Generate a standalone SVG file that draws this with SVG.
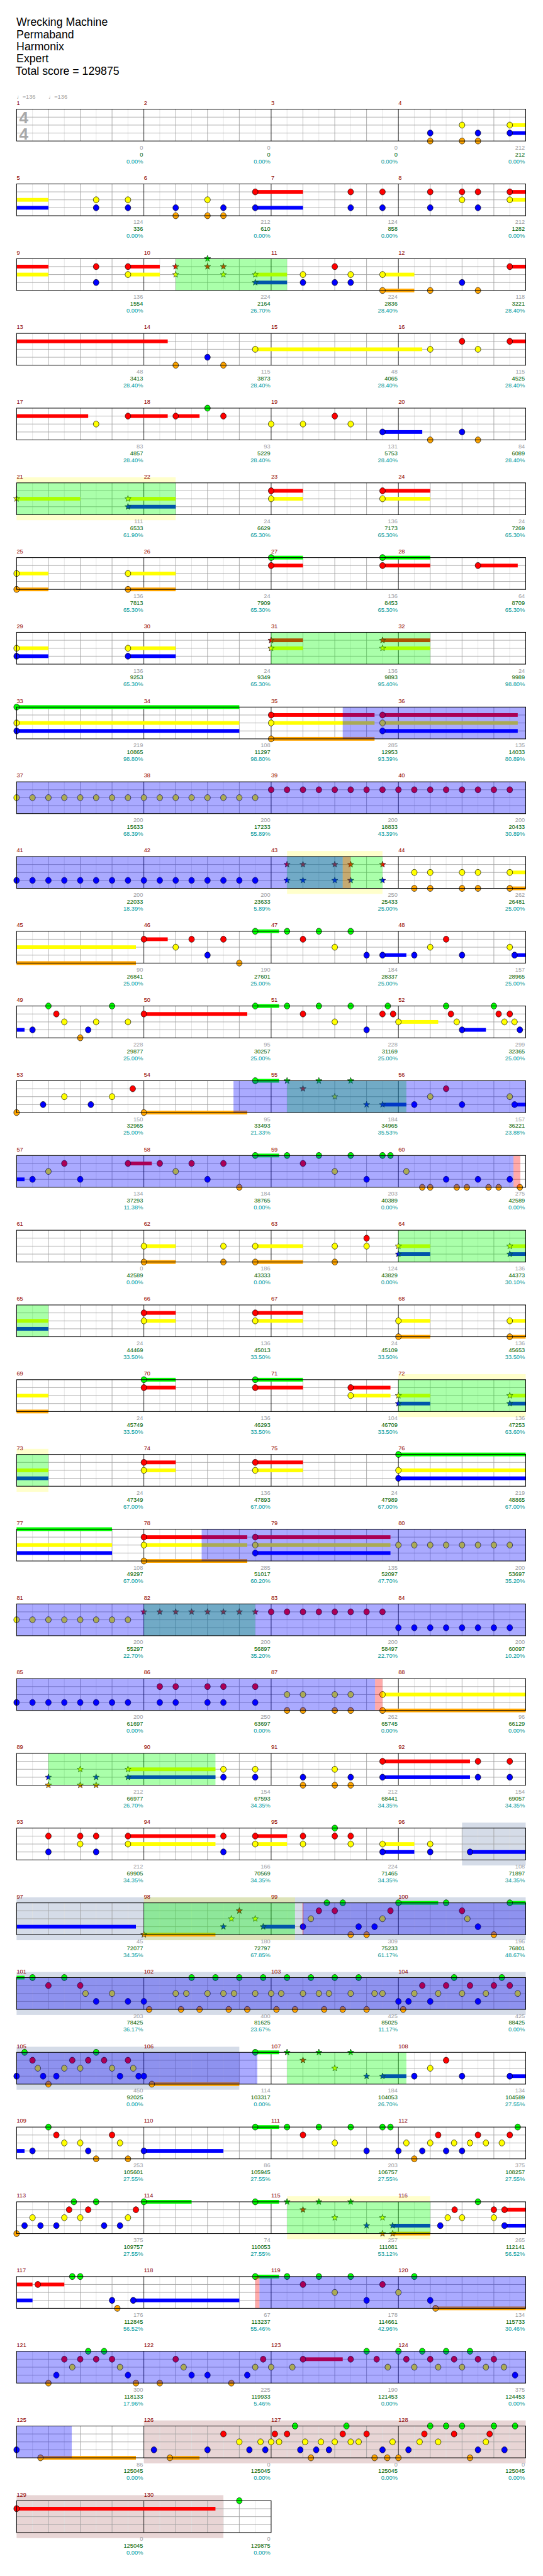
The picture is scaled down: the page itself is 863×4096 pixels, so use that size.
<svg xmlns="http://www.w3.org/2000/svg" width="863" height="4096" viewBox="0 0 863 4096">
<style>
.t{font-family:'Liberation Sans',Arial,sans-serif}
.ti{font-size:21px;fill:#000}
.mn{font-size:11px;fill:#8b0000}
.a,.b,.c{font-size:11px;text-anchor:end}
.a{fill:#a0a0a0}.b{fill:#006400}.c{fill:#009999}
.sw{fill:#fff}
.bd{fill:none;stroke:#000;stroke-width:1.2}
.cg{fill:#00ff00}.cr{fill:#ff0000}.cy{fill:#ffff00}.cb{fill:#0000ff}.co{fill:#ffa500}
.og{fill:#00ff00;opacity:.333}.ob{fill:#0000ff;opacity:.333}.or{fill:#ff0000;opacity:.333}
.gy{fill:#d5dce8}.pk{fill:#e8d5d5}.yb{fill:#ffff00;opacity:.2}
.tp{font-family:'Liberation Sans','DejaVu Sans',sans-serif;font-size:11px;fill:#a0a0a0}
.ts{font-family:'Liberation Sans',Arial,sans-serif;font-size:31px;font-weight:bold;fill:#a8a8a8}
</style>
<defs>
<g id="gm">
<path d="M30 0V60M90 0V60M150 0V60M210 0V60" stroke="#e0e0e0" stroke-width="1"/>
<path d="M60 0V60M120 0V60M180 0V60M0 15H240M0 30H240M0 45H240" stroke="#a0a0a0" stroke-width="1"/>
</g>
<g id="gr"><use href="#gm"/><use href="#gm" x="240"/><use href="#gm" x="480"/><use href="#gm" x="720"/><path d="M240 0V60M480 0V60M720 0V60" stroke="#000" stroke-width="1"/></g>
<ellipse id="nb" rx="5.3" ry="5.8" stroke="#000" stroke-width=".8"/>
<use id="G" href="#nb" fill="#00ff00"/>
<use id="R" href="#nb" y="15" fill="#ff0000"/>
<use id="Y" href="#nb" y="30" fill="#ffff00"/>
<use id="B" href="#nb" y="45" fill="#0000ff"/>
<use id="O" href="#nb" y="60" fill="#ffa500"/>
<polygon id="stb" points="0,-6.2 1.5,-2.1 5.9,-1.9 2.4,0.8 3.6,5 0,2.6 -3.6,5 -2.4,0.8 -5.9,-1.9 -1.5,-2.1" stroke="#000" stroke-width=".7"/>
<use id="sG" href="#stb" fill="#00ff00"/>
<use id="sR" href="#stb" y="15" fill="#ff0000"/>
<use id="sY" href="#stb" y="30" fill="#ffff00"/>
<use id="sB" href="#stb" y="45" fill="#0000ff"/>
<use id="sO" href="#stb" y="60" fill="#ffa500"/>
</defs>
<rect width="863" height="4096" fill="#fff"/>
<g transform="scale(0.8428)">
<g id="header" class="t">
<text class="ti" x="31" y="49">Wrecking Machine</text>
<text class="ti" x="31" y="72">Permaband</text>
<text class="ti" x="31" y="95">Harmonix</text>
<text class="ti" x="31" y="118">Expert</text>
<text class="ti" x="29.5" y="141">Total score = 129875</text>
</g>

<g id="row1" transform="translate(31.3,206)">
<rect class="sw" width="960" height="60"/>
<use href="#gr"/>
<rect class="cy" x="930" y="26.5" width="30" height="7"/><rect class="cb" x="930" y="41.5" width="30" height="7"/>
<use href="#B" x="780"/><use href="#O" x="780"/><use href="#Y" x="840"/><use href="#O" x="840"/><use href="#B" x="870"/><use href="#O" x="870"/><use href="#Y" x="930"/><use href="#B" x="930"/>
<rect class="bd" width="960" height="60"/>
<text class="ts" x="5" y="27">4</text><text class="ts" x="5" y="57">4</text>
<text class="tp" x="0" y="-20">♩=136</text><text class="tp" x="60" y="-20">♩=136</text>
<g class="t">
<text class="mn" x="0" y="-8">1</text><text class="mn" x="240" y="-8">2</text><text class="mn" x="480" y="-8">3</text><text class="mn" x="720" y="-8">4</text>
<text class="a" x="238.5" y="76">0</text><text class="b" x="238.5" y="89">0</text><text class="c" x="238.5" y="102">0.00%</text>
<text class="a" x="478.5" y="76">0</text><text class="b" x="478.5" y="89">0</text><text class="c" x="478.5" y="102">0.00%</text>
<text class="a" x="718.5" y="76">0</text><text class="b" x="718.5" y="89">0</text><text class="c" x="718.5" y="102">0.00%</text>
<text class="a" x="958.5" y="76">212</text><text class="b" x="958.5" y="89">212</text><text class="c" x="958.5" y="102">0.00%</text>
</g>
</g>

<g id="row2" transform="translate(31.3,347)">
<rect class="sw" width="960" height="60"/>
<use href="#gr"/>
<rect class="cy" x="0" y="26.5" width="60" height="7"/><rect class="cb" x="0" y="41.5" width="60" height="7"/><rect class="cr" x="450" y="11.5" width="90" height="7"/><rect class="cb" x="450" y="41.5" width="90" height="7"/><rect class="cr" x="930" y="11.5" width="30" height="7"/><rect class="cy" x="930" y="26.5" width="30" height="7"/>
<use href="#Y" x="150"/><use href="#B" x="150"/><use href="#Y" x="210"/><use href="#B" x="210"/><use href="#B" x="300"/><use href="#O" x="300"/><use href="#Y" x="360"/><use href="#O" x="360"/><use href="#B" x="390"/><use href="#O" x="390"/><use href="#R" x="450"/><use href="#B" x="450"/><use href="#R" x="630"/><use href="#B" x="630"/><use href="#R" x="690"/><use href="#B" x="690"/><use href="#R" x="780"/><use href="#B" x="780"/><use href="#R" x="840"/><use href="#Y" x="840"/><use href="#R" x="870"/><use href="#B" x="870"/><use href="#R" x="930"/><use href="#Y" x="930"/>
<rect class="bd" width="960" height="60"/>
<g class="t">
<text class="mn" x="0" y="-8">5</text><text class="mn" x="240" y="-8">6</text><text class="mn" x="480" y="-8">7</text><text class="mn" x="720" y="-8">8</text>
<text class="a" x="238.5" y="76">124</text><text class="b" x="238.5" y="89">336</text><text class="c" x="238.5" y="102">0.00%</text>
<text class="a" x="478.5" y="76">212</text><text class="b" x="478.5" y="89">610</text><text class="c" x="478.5" y="102">0.00%</text>
<text class="a" x="718.5" y="76">124</text><text class="b" x="718.5" y="89">858</text><text class="c" x="718.5" y="102">0.00%</text>
<text class="a" x="958.5" y="76">212</text><text class="b" x="958.5" y="89">1282</text><text class="c" x="958.5" y="102">0.00%</text>
</g>
</g>

<g id="row3" transform="translate(31.3,488)">
<rect class="sw" width="960" height="60"/>
<use href="#gr"/>
<rect class="cr" x="0" y="11.5" width="60" height="7"/><rect class="cy" x="0" y="26.5" width="60" height="7"/><rect class="cr" x="210" y="11.5" width="60" height="7"/><rect class="cy" x="210" y="26.5" width="60" height="7"/><rect class="cy" x="450" y="26.5" width="60" height="7"/><rect class="cb" x="450" y="41.5" width="60" height="7"/><rect class="cy" x="690" y="26.5" width="60" height="7"/><rect class="co" x="690" y="56.5" width="60" height="7"/><rect class="cr" x="930" y="11.5" width="30" height="7"/>
<use href="#R" x="150"/><use href="#B" x="150"/><use href="#R" x="210"/><use href="#Y" x="210"/>
<use href="#sR" x="300"/><use href="#sY" x="300"/><use href="#sG" x="360"/><use href="#sR" x="360"/><use href="#sR" x="390"/><use href="#sY" x="390"/><use href="#sY" x="450"/><use href="#sB" x="450"/>
<use href="#Y" x="540"/><use href="#B" x="540"/><use href="#R" x="600"/><use href="#B" x="600"/><use href="#Y" x="630"/><use href="#B" x="630"/><use href="#Y" x="690"/><use href="#O" x="690"/><use href="#O" x="780"/><use href="#B" x="840"/><use href="#O" x="870"/><use href="#R" x="930"/>
<rect class="og" x="300" width="210" height="60"/>
<rect class="bd" width="960" height="60"/>
<g class="t">
<text class="mn" x="0" y="-8">9</text><text class="mn" x="240" y="-8">10</text><text class="mn" x="480" y="-8">11</text><text class="mn" x="720" y="-8">12</text>
<text class="a" x="238.5" y="76">136</text><text class="b" x="238.5" y="89">1554</text><text class="c" x="238.5" y="102">0.00%</text>
<text class="a" x="478.5" y="76">224</text><text class="b" x="478.5" y="89">2164</text><text class="c" x="478.5" y="102">26.70%</text>
<text class="a" x="718.5" y="76">224</text><text class="b" x="718.5" y="89">2836</text><text class="c" x="718.5" y="102">28.40%</text>
<text class="a" x="958.5" y="76">118</text><text class="b" x="958.5" y="89">3221</text><text class="c" x="958.5" y="102">28.40%</text>
</g>
</g>

<g id="row4" transform="translate(31.3,629)">
<rect class="sw" width="960" height="60"/>
<use href="#gr"/>
<rect class="cr" x="0" y="11.5" width="285" height="7"/><rect class="cy" x="450" y="26.5" width="315" height="7"/><rect class="cr" x="930" y="11.5" width="30" height="7"/>
<use href="#O" x="300"/><use href="#B" x="360"/><use href="#O" x="390"/><use href="#Y" x="450"/><use href="#Y" x="780"/><use href="#R" x="840"/><use href="#Y" x="870"/><use href="#R" x="930"/>
<rect class="bd" width="960" height="60"/>
<g class="t">
<text class="mn" x="0" y="-8">13</text><text class="mn" x="240" y="-8">14</text><text class="mn" x="480" y="-8">15</text><text class="mn" x="720" y="-8">16</text>
<text class="a" x="238.5" y="76">48</text><text class="b" x="238.5" y="89">3413</text><text class="c" x="238.5" y="102">28.40%</text>
<text class="a" x="478.5" y="76">115</text><text class="b" x="478.5" y="89">3873</text><text class="c" x="478.5" y="102">28.40%</text>
<text class="a" x="718.5" y="76">48</text><text class="b" x="718.5" y="89">4065</text><text class="c" x="718.5" y="102">28.40%</text>
<text class="a" x="958.5" y="76">115</text><text class="b" x="958.5" y="89">4525</text><text class="c" x="958.5" y="102">28.40%</text>
</g>
</g>

<g id="row5" transform="translate(31.3,770)">
<rect class="sw" width="960" height="60"/>
<use href="#gr"/>
<rect class="cr" x="0" y="11.5" width="135" height="7"/><rect class="cr" x="210" y="11.5" width="75" height="7"/><rect class="cr" x="300" y="11.5" width="45" height="7"/><rect class="cb" x="690" y="41.5" width="75" height="7"/>
<use href="#Y" x="150"/><use href="#R" x="210"/><use href="#R" x="300"/><use href="#G" x="360"/><use href="#R" x="390"/><use href="#Y" x="480"/><use href="#Y" x="540"/><use href="#R" x="600"/><use href="#Y" x="630"/><use href="#B" x="690"/><use href="#O" x="780"/><use href="#B" x="840"/><use href="#O" x="870"/>
<rect class="bd" width="960" height="60"/>
<g class="t">
<text class="mn" x="0" y="-8">17</text><text class="mn" x="240" y="-8">18</text><text class="mn" x="480" y="-8">19</text><text class="mn" x="720" y="-8">20</text>
<text class="a" x="238.5" y="76">83</text><text class="b" x="238.5" y="89">4857</text><text class="c" x="238.5" y="102">28.40%</text>
<text class="a" x="478.5" y="76">93</text><text class="b" x="478.5" y="89">5229</text><text class="c" x="478.5" y="102">28.40%</text>
<text class="a" x="718.5" y="76">131</text><text class="b" x="718.5" y="89">5753</text><text class="c" x="718.5" y="102">28.40%</text>
<text class="a" x="958.5" y="76">84</text><text class="b" x="958.5" y="89">6089</text><text class="c" x="958.5" y="102">28.40%</text>
</g>
</g>

<g id="row6" transform="translate(31.3,911)">
<rect class="sw" width="960" height="60"/>
<rect class="yb" x="0" y="-10.5" width="300" height="10.5"/><rect class="yb" x="0" y="60" width="300" height="10.5"/>
<use href="#gr"/>
<rect class="cy" x="0" y="26.5" width="120" height="7"/><rect class="cy" x="210" y="26.5" width="90" height="7"/><rect class="cb" x="210" y="41.5" width="90" height="7"/><rect class="cr" x="480" y="11.5" width="60" height="7"/><rect class="cy" x="480" y="26.5" width="60" height="7"/><rect class="cr" x="690" y="11.5" width="90" height="7"/><rect class="cy" x="690" y="26.5" width="90" height="7"/>
<use href="#sY" x="0"/><use href="#sY" x="210"/><use href="#sB" x="210"/><use href="#R" x="480"/><use href="#Y" x="480"/><use href="#R" x="690"/><use href="#Y" x="690"/>
<rect class="og" x="0" width="300" height="60"/>
<rect class="bd" width="960" height="60"/>
<g class="t">
<text class="mn" x="0" y="-8">21</text><text class="mn" x="240" y="-8">22</text><text class="mn" x="480" y="-8">23</text><text class="mn" x="720" y="-8">24</text>
<text class="a" x="238.5" y="76">111</text><text class="b" x="238.5" y="89">6533</text><text class="c" x="238.5" y="102">61.90%</text>
<text class="a" x="478.5" y="76">24</text><text class="b" x="478.5" y="89">6629</text><text class="c" x="478.5" y="102">65.30%</text>
<text class="a" x="718.5" y="76">136</text><text class="b" x="718.5" y="89">7173</text><text class="c" x="718.5" y="102">65.30%</text>
<text class="a" x="958.5" y="76">24</text><text class="b" x="958.5" y="89">7269</text><text class="c" x="958.5" y="102">65.30%</text>
</g>
</g>

<g id="row7" transform="translate(31.3,1052)">
<rect class="sw" width="960" height="60"/>
<use href="#gr"/>
<rect class="cy" x="0" y="26.5" width="60" height="7"/><rect class="co" x="0" y="56.5" width="60" height="7"/><rect class="cy" x="210" y="26.5" width="90" height="7"/><rect class="co" x="210" y="56.5" width="90" height="7"/><rect class="cg" x="480" y="-3.5" width="60" height="7"/><rect class="cr" x="480" y="11.5" width="60" height="7"/><rect class="cg" x="690" y="-3.5" width="90" height="7"/><rect class="cr" x="690" y="11.5" width="90" height="7"/><rect class="cr" x="870" y="11.5" width="75" height="7"/>
<use href="#Y" x="0"/><use href="#O" x="0"/><use href="#Y" x="210"/><use href="#O" x="210"/><use href="#G" x="480"/><use href="#R" x="480"/><use href="#G" x="690"/><use href="#R" x="690"/><use href="#R" x="870"/>
<rect class="bd" width="960" height="60"/>
<g class="t">
<text class="mn" x="0" y="-8">25</text><text class="mn" x="240" y="-8">26</text><text class="mn" x="480" y="-8">27</text><text class="mn" x="720" y="-8">28</text>
<text class="a" x="238.5" y="76">136</text><text class="b" x="238.5" y="89">7813</text><text class="c" x="238.5" y="102">65.30%</text>
<text class="a" x="478.5" y="76">24</text><text class="b" x="478.5" y="89">7909</text><text class="c" x="478.5" y="102">65.30%</text>
<text class="a" x="718.5" y="76">136</text><text class="b" x="718.5" y="89">8453</text><text class="c" x="718.5" y="102">65.30%</text>
<text class="a" x="958.5" y="76">64</text><text class="b" x="958.5" y="89">8709</text><text class="c" x="958.5" y="102">65.30%</text>
</g>
</g>

<g id="row8" transform="translate(31.3,1193)">
<rect class="sw" width="960" height="60"/>
<use href="#gr"/>
<rect class="cy" x="0" y="26.5" width="60" height="7"/><rect class="cb" x="0" y="41.5" width="60" height="7"/><rect class="cy" x="210" y="26.5" width="90" height="7"/><rect class="cb" x="210" y="41.5" width="90" height="7"/><rect class="cr" x="480" y="11.5" width="60" height="7"/><rect class="cy" x="480" y="26.5" width="60" height="7"/><rect class="cr" x="690" y="11.5" width="90" height="7"/><rect class="cy" x="690" y="26.5" width="90" height="7"/>
<use href="#Y" x="0"/><use href="#B" x="0"/><use href="#Y" x="210"/><use href="#B" x="210"/><use href="#sR" x="480"/><use href="#sY" x="480"/><use href="#sR" x="690"/><use href="#sY" x="690"/>
<rect class="og" x="480" width="300" height="60"/>
<rect class="bd" width="960" height="60"/>
<g class="t">
<text class="mn" x="0" y="-8">29</text><text class="mn" x="240" y="-8">30</text><text class="mn" x="480" y="-8">31</text><text class="mn" x="720" y="-8">32</text>
<text class="a" x="238.5" y="76">136</text><text class="b" x="238.5" y="89">9253</text><text class="c" x="238.5" y="102">65.30%</text>
<text class="a" x="478.5" y="76">24</text><text class="b" x="478.5" y="89">9349</text><text class="c" x="478.5" y="102">65.30%</text>
<text class="a" x="718.5" y="76">136</text><text class="b" x="718.5" y="89">9893</text><text class="c" x="718.5" y="102">95.40%</text>
<text class="a" x="958.5" y="76">24</text><text class="b" x="958.5" y="89">9989</text><text class="c" x="958.5" y="102">98.80%</text>
</g>
</g>

<g id="row9" transform="translate(31.3,1334)">
<rect class="sw" width="960" height="60"/>
<use href="#gr"/>
<rect class="cg" x="0" y="-3.5" width="420" height="7"/><rect class="cy" x="0" y="26.5" width="420" height="7"/><rect class="cb" x="0" y="41.5" width="420" height="7"/><rect class="cr" x="480" y="11.5" width="195" height="7"/><rect class="cy" x="480" y="26.5" width="195" height="7"/><rect class="co" x="480" y="56.5" width="195" height="7"/><rect class="cr" x="690" y="11.5" width="255" height="7"/><rect class="cy" x="690" y="26.5" width="255" height="7"/><rect class="cb" x="690" y="41.5" width="255" height="7"/>
<use href="#G" x="0"/><use href="#Y" x="0"/><use href="#B" x="0"/><use href="#R" x="480"/><use href="#Y" x="480"/><use href="#O" x="480"/><use href="#R" x="690"/><use href="#Y" x="690"/><use href="#B" x="690"/>
<rect class="ob" x="615" width="345" height="60"/>
<rect class="bd" width="960" height="60"/>
<g class="t">
<text class="mn" x="0" y="-8">33</text><text class="mn" x="240" y="-8">34</text><text class="mn" x="480" y="-8">35</text><text class="mn" x="720" y="-8">36</text>
<text class="a" x="238.5" y="76">219</text><text class="b" x="238.5" y="89">10865</text><text class="c" x="238.5" y="102">98.80%</text>
<text class="a" x="478.5" y="76">108</text><text class="b" x="478.5" y="89">11297</text><text class="c" x="478.5" y="102">98.80%</text>
<text class="a" x="718.5" y="76">285</text><text class="b" x="718.5" y="89">12953</text><text class="c" x="718.5" y="102">93.39%</text>
<text class="a" x="958.5" y="76">135</text><text class="b" x="958.5" y="89">14033</text><text class="c" x="958.5" y="102">80.89%</text>
</g>
</g>

<g id="row10" transform="translate(31.3,1475)">
<rect class="sw" width="960" height="60"/>
<use href="#gr"/>
<use href="#Y" x="0"/><use href="#Y" x="30"/><use href="#Y" x="60"/><use href="#Y" x="90"/><use href="#Y" x="120"/><use href="#Y" x="150"/><use href="#Y" x="180"/><use href="#Y" x="210"/><use href="#Y" x="240"/><use href="#Y" x="270"/><use href="#Y" x="300"/><use href="#Y" x="330"/><use href="#Y" x="360"/><use href="#Y" x="390"/><use href="#Y" x="420"/><use href="#Y" x="450"/>
<use href="#R" x="480"/><use href="#R" x="510"/><use href="#R" x="540"/><use href="#R" x="570"/><use href="#R" x="600"/><use href="#R" x="630"/><use href="#R" x="660"/><use href="#R" x="690"/><use href="#R" x="720"/><use href="#R" x="750"/><use href="#R" x="780"/><use href="#R" x="810"/><use href="#R" x="840"/><use href="#R" x="870"/><use href="#R" x="900"/><use href="#R" x="930"/>
<rect class="ob" x="0" width="960" height="60"/>
<rect class="bd" width="960" height="60"/>
<g class="t">
<text class="mn" x="0" y="-8">37</text><text class="mn" x="240" y="-8">38</text><text class="mn" x="480" y="-8">39</text><text class="mn" x="720" y="-8">40</text>
<text class="a" x="238.5" y="76">200</text><text class="b" x="238.5" y="89">15633</text><text class="c" x="238.5" y="102">68.39%</text>
<text class="a" x="478.5" y="76">200</text><text class="b" x="478.5" y="89">17233</text><text class="c" x="478.5" y="102">55.89%</text>
<text class="a" x="718.5" y="76">200</text><text class="b" x="718.5" y="89">18833</text><text class="c" x="718.5" y="102">43.39%</text>
<text class="a" x="958.5" y="76">200</text><text class="b" x="958.5" y="89">20433</text><text class="c" x="958.5" y="102">30.89%</text>
</g>
</g>

<g id="row11" transform="translate(31.3,1616)">
<rect class="sw" width="960" height="60"/>
<rect class="yb" x="510" y="-10.5" width="180" height="10.5"/><rect class="yb" x="510" y="60" width="180" height="10.5"/>
<use href="#gr"/>
<rect class="cy" x="930" y="26.5" width="30" height="7"/><rect class="co" x="930" y="56.5" width="30" height="7"/>
<use href="#B" x="0"/><use href="#B" x="30"/><use href="#B" x="60"/><use href="#B" x="90"/><use href="#B" x="120"/><use href="#B" x="150"/><use href="#B" x="180"/><use href="#B" x="210"/><use href="#B" x="240"/><use href="#B" x="270"/><use href="#B" x="300"/><use href="#B" x="330"/><use href="#B" x="360"/><use href="#B" x="390"/><use href="#B" x="420"/><use href="#B" x="450"/>
<use href="#sR" x="510"/><use href="#sB" x="510"/><use href="#sR" x="540"/><use href="#sB" x="540"/><use href="#sR" x="600"/><use href="#sB" x="600"/><use href="#sR" x="630"/><use href="#sB" x="630"/><use href="#sR" x="690"/><use href="#sB" x="690"/>
<use href="#Y" x="750"/><use href="#O" x="750"/><use href="#Y" x="780"/><use href="#O" x="780"/><use href="#Y" x="840"/><use href="#O" x="840"/><use href="#Y" x="870"/><use href="#O" x="870"/><use href="#Y" x="930"/><use href="#O" x="930"/>
<rect class="og" x="510" width="180" height="60"/>
<rect class="ob" x="0" width="615" height="60"/>
<rect class="or" x="615" width="15" height="60"/>
<rect class="bd" width="960" height="60"/>
<g class="t">
<text class="mn" x="0" y="-8">41</text><text class="mn" x="240" y="-8">42</text><text class="mn" x="480" y="-8">43</text><text class="mn" x="720" y="-8">44</text>
<text class="a" x="238.5" y="76">200</text><text class="b" x="238.5" y="89">22033</text><text class="c" x="238.5" y="102">18.39%</text>
<text class="a" x="478.5" y="76">200</text><text class="b" x="478.5" y="89">23633</text><text class="c" x="478.5" y="102">5.89%</text>
<text class="a" x="718.5" y="76">250</text><text class="b" x="718.5" y="89">25433</text><text class="c" x="718.5" y="102">25.00%</text>
<text class="a" x="958.5" y="76">262</text><text class="b" x="958.5" y="89">26481</text><text class="c" x="958.5" y="102">25.00%</text>
</g>
</g>

<g id="row12" transform="translate(31.3,1757)">
<rect class="sw" width="960" height="60"/>
<use href="#gr"/>
<rect class="cy" x="0" y="26.5" width="225" height="7"/><rect class="co" x="0" y="56.5" width="225" height="7"/><rect class="cr" x="240" y="11.5" width="45" height="7"/><rect class="cg" x="450" y="-3.5" width="45" height="7"/><rect class="cb" x="690" y="41.5" width="45" height="7"/><rect class="cb" x="939" y="41.5" width="21" height="7"/>
<use href="#R" x="240"/><use href="#Y" x="300"/><use href="#R" x="330"/><use href="#B" x="360"/><use href="#R" x="390"/><use href="#O" x="420"/><use href="#G" x="450"/><use href="#G" x="510"/><use href="#R" x="540"/><use href="#G" x="570"/><use href="#Y" x="600"/><use href="#G" x="630"/><use href="#B" x="660"/><use href="#B" x="690"/><use href="#B" x="750"/><use href="#Y" x="780"/><use href="#R" x="810"/><use href="#B" x="840"/><use href="#Y" x="930"/><use href="#B" x="939"/>
<rect class="bd" width="960" height="60"/>
<g class="t">
<text class="mn" x="0" y="-8">45</text><text class="mn" x="240" y="-8">46</text><text class="mn" x="480" y="-8">47</text><text class="mn" x="720" y="-8">48</text>
<text class="a" x="238.5" y="76">90</text><text class="b" x="238.5" y="89">26841</text><text class="c" x="238.5" y="102">25.00%</text>
<text class="a" x="478.5" y="76">190</text><text class="b" x="478.5" y="89">27601</text><text class="c" x="478.5" y="102">25.00%</text>
<text class="a" x="718.5" y="76">184</text><text class="b" x="718.5" y="89">28337</text><text class="c" x="718.5" y="102">25.00%</text>
<text class="a" x="958.5" y="76">157</text><text class="b" x="958.5" y="89">28965</text><text class="c" x="958.5" y="102">25.00%</text>
</g>
</g>

<g id="row13" transform="translate(31.3,1898)">
<rect class="sw" width="960" height="60"/>
<use href="#gr"/>
<rect class="cb" x="0" y="41.5" width="15" height="7"/><rect class="cr" x="240" y="11.5" width="195" height="7"/><rect class="cg" x="450" y="-3.5" width="45" height="7"/><rect class="cy" x="720" y="26.5" width="75" height="7"/><rect class="cb" x="840" y="41.5" width="45" height="7"/>
<use href="#B" x="30"/><use href="#G" x="60"/><use href="#R" x="75"/><use href="#Y" x="90"/><use href="#O" x="120"/><use href="#B" x="135"/><use href="#Y" x="150"/><use href="#G" x="180"/><use href="#Y" x="210"/><use href="#R" x="240"/><use href="#G" x="450"/><use href="#G" x="510"/><use href="#R" x="540"/><use href="#G" x="570"/><use href="#Y" x="600"/><use href="#G" x="630"/><use href="#B" x="660"/><use href="#R" x="690"/><use href="#G" x="700"/><use href="#R" x="710"/><use href="#Y" x="720"/><use href="#G" x="810"/><use href="#R" x="819"/><use href="#Y" x="830"/><use href="#B" x="840"/><use href="#G" x="900"/><use href="#R" x="909"/><use href="#Y" x="920"/><use href="#R" x="930"/><use href="#Y" x="939"/><use href="#B" x="949"/>
<rect class="bd" width="960" height="60"/>
<g class="t">
<text class="mn" x="0" y="-8">49</text><text class="mn" x="240" y="-8">50</text><text class="mn" x="480" y="-8">51</text><text class="mn" x="720" y="-8">52</text>
<text class="a" x="238.5" y="76">228</text><text class="b" x="238.5" y="89">29877</text><text class="c" x="238.5" y="102">25.00%</text>
<text class="a" x="478.5" y="76">95</text><text class="b" x="478.5" y="89">30257</text><text class="c" x="478.5" y="102">25.00%</text>
<text class="a" x="718.5" y="76">228</text><text class="b" x="718.5" y="89">31169</text><text class="c" x="718.5" y="102">25.00%</text>
<text class="a" x="958.5" y="76">299</text><text class="b" x="958.5" y="89">32365</text><text class="c" x="958.5" y="102">25.00%</text>
</g>
</g>

<g id="row14" transform="translate(31.3,2039)">
<rect class="sw" width="960" height="60"/>
<use href="#gr"/>
<rect class="co" x="240" y="56.5" width="195" height="7"/><rect class="cg" x="450" y="-3.5" width="45" height="7"/><rect class="cb" x="690" y="41.5" width="45" height="7"/><rect class="cb" x="939" y="41.5" width="21" height="7"/>
<use href="#O" x="0"/><use href="#B" x="50"/><use href="#Y" x="90"/><use href="#B" x="140"/><use href="#Y" x="180"/><use href="#R" x="219"/><use href="#O" x="240"/><use href="#G" x="450"/>
<use href="#sG" x="510"/><use href="#sR" x="540"/><use href="#sG" x="570"/><use href="#sY" x="600"/><use href="#sG" x="630"/><use href="#sB" x="660"/><use href="#sB" x="690"/>
<use href="#B" x="750"/><use href="#Y" x="780"/><use href="#R" x="810"/><use href="#B" x="840"/><use href="#Y" x="930"/><use href="#B" x="939"/>
<rect class="og" x="510" width="225" height="60"/>
<rect class="ob" x="409" width="551" height="60"/>
<rect class="bd" width="960" height="60"/>
<g class="t">
<text class="mn" x="0" y="-8">53</text><text class="mn" x="240" y="-8">54</text><text class="mn" x="480" y="-8">55</text><text class="mn" x="720" y="-8">56</text>
<text class="a" x="238.5" y="76">150</text><text class="b" x="238.5" y="89">32965</text><text class="c" x="238.5" y="102">25.00%</text>
<text class="a" x="478.5" y="76">95</text><text class="b" x="478.5" y="89">33493</text><text class="c" x="478.5" y="102">21.33%</text>
<text class="a" x="718.5" y="76">184</text><text class="b" x="718.5" y="89">34965</text><text class="c" x="718.5" y="102">35.53%</text>
<text class="a" x="958.5" y="76">157</text><text class="b" x="958.5" y="89">36221</text><text class="c" x="958.5" y="102">23.88%</text>
</g>
</g>

<g id="row15" transform="translate(31.3,2180)">
<rect class="sw" width="960" height="60"/>
<use href="#gr"/>
<rect class="cb" x="0" y="41.5" width="15" height="7"/><rect class="cr" x="210" y="11.5" width="45" height="7"/><rect class="cg" x="450" y="-3.5" width="45" height="7"/>
<use href="#B" x="30"/><use href="#Y" x="60"/><use href="#R" x="90"/><use href="#B" x="120"/><use href="#R" x="210"/><use href="#R" x="270"/><use href="#Y" x="300"/><use href="#R" x="330"/><use href="#B" x="360"/><use href="#R" x="390"/><use href="#O" x="420"/><use href="#G" x="450"/><use href="#G" x="510"/><use href="#R" x="540"/><use href="#G" x="570"/><use href="#Y" x="600"/><use href="#G" x="630"/><use href="#B" x="660"/><use href="#G" x="690"/><use href="#G" x="705"/><use href="#Y" x="735"/><use href="#O" x="765"/><use href="#O" x="780"/><use href="#B" x="810"/><use href="#O" x="830"/><use href="#O" x="849"/><use href="#B" x="870"/><use href="#O" x="890"/><use href="#O" x="909"/><use href="#B" x="930"/><use href="#O" x="949"/>
<rect class="ob" x="0" width="937" height="60"/>
<rect class="or" x="937" width="13" height="60"/>
<rect class="bd" width="960" height="60"/>
<g class="t">
<text class="mn" x="0" y="-8">57</text><text class="mn" x="240" y="-8">58</text><text class="mn" x="480" y="-8">59</text><text class="mn" x="720" y="-8">60</text>
<text class="a" x="238.5" y="76">134</text><text class="b" x="238.5" y="89">37293</text><text class="c" x="238.5" y="102">11.38%</text>
<text class="a" x="478.5" y="76">184</text><text class="b" x="478.5" y="89">38765</text><text class="c" x="478.5" y="102">0.00%</text>
<text class="a" x="718.5" y="76">203</text><text class="b" x="718.5" y="89">40389</text><text class="c" x="718.5" y="102">0.00%</text>
<text class="a" x="958.5" y="76">275</text><text class="b" x="958.5" y="89">42589</text><text class="c" x="958.5" y="102">0.00%</text>
</g>
</g>

<g id="row16" transform="translate(31.3,2321)">
<rect class="sw" width="960" height="60"/>
<use href="#gr"/>
<rect class="cy" x="240" y="26.5" width="60" height="7"/><rect class="co" x="240" y="56.5" width="60" height="7"/><rect class="cy" x="450" y="26.5" width="90" height="7"/><rect class="co" x="450" y="56.5" width="90" height="7"/><rect class="cy" x="720" y="26.5" width="60" height="7"/><rect class="cb" x="720" y="41.5" width="60" height="7"/><rect class="cy" x="930" y="26.5" width="30" height="7"/><rect class="cb" x="930" y="41.5" width="30" height="7"/>
<use href="#Y" x="240"/><use href="#O" x="240"/><use href="#Y" x="390"/><use href="#O" x="390"/><use href="#Y" x="450"/><use href="#O" x="450"/><use href="#Y" x="600"/><use href="#O" x="600"/><use href="#R" x="660"/><use href="#Y" x="660"/>
<use href="#sY" x="720"/><use href="#sB" x="720"/><use href="#sY" x="930"/><use href="#sB" x="930"/>
<rect class="og" x="720" width="240" height="60"/>
<rect class="bd" width="960" height="60"/>
<g class="t">
<text class="mn" x="0" y="-8">61</text><text class="mn" x="240" y="-8">62</text><text class="mn" x="480" y="-8">63</text><text class="mn" x="720" y="-8">64</text>
<text class="a" x="238.5" y="76">0</text><text class="b" x="238.5" y="89">42589</text><text class="c" x="238.5" y="102">0.00%</text>
<text class="a" x="478.5" y="76">186</text><text class="b" x="478.5" y="89">43333</text><text class="c" x="478.5" y="102">0.00%</text>
<text class="a" x="718.5" y="76">124</text><text class="b" x="718.5" y="89">43829</text><text class="c" x="718.5" y="102">0.00%</text>
<text class="a" x="958.5" y="76">136</text><text class="b" x="958.5" y="89">44373</text><text class="c" x="958.5" y="102">30.10%</text>
</g>
</g>

<g id="row17" transform="translate(31.3,2462)">
<rect class="sw" width="960" height="60"/>
<use href="#gr"/>
<rect class="cy" x="0" y="26.5" width="60" height="7"/><rect class="cb" x="0" y="41.5" width="60" height="7"/><rect class="cr" x="240" y="11.5" width="60" height="7"/><rect class="cy" x="240" y="26.5" width="60" height="7"/><rect class="cr" x="450" y="11.5" width="90" height="7"/><rect class="cy" x="450" y="26.5" width="90" height="7"/><rect class="cy" x="720" y="26.5" width="60" height="7"/><rect class="co" x="720" y="56.5" width="60" height="7"/><rect class="cy" x="930" y="26.5" width="30" height="7"/><rect class="co" x="930" y="56.5" width="30" height="7"/>
<use href="#R" x="240"/><use href="#Y" x="240"/><use href="#R" x="450"/><use href="#Y" x="450"/><use href="#Y" x="720"/><use href="#O" x="720"/><use href="#Y" x="930"/><use href="#O" x="930"/>
<rect class="og" x="0" width="60" height="60"/>
<rect class="bd" width="960" height="60"/>
<g class="t">
<text class="mn" x="0" y="-8">65</text><text class="mn" x="240" y="-8">66</text><text class="mn" x="480" y="-8">67</text><text class="mn" x="720" y="-8">68</text>
<text class="a" x="238.5" y="76">24</text><text class="b" x="238.5" y="89">44469</text><text class="c" x="238.5" y="102">33.50%</text>
<text class="a" x="478.5" y="76">136</text><text class="b" x="478.5" y="89">45013</text><text class="c" x="478.5" y="102">33.50%</text>
<text class="a" x="718.5" y="76">24</text><text class="b" x="718.5" y="89">45109</text><text class="c" x="718.5" y="102">33.50%</text>
<text class="a" x="958.5" y="76">136</text><text class="b" x="958.5" y="89">45653</text><text class="c" x="958.5" y="102">33.50%</text>
</g>
</g>

<g id="row18" transform="translate(31.3,2603)">
<rect class="sw" width="960" height="60"/>
<rect class="yb" x="720" y="-10.5" width="240" height="10.5"/><rect class="yb" x="720" y="60" width="240" height="10.5"/>
<use href="#gr"/>
<rect class="cy" x="0" y="26.5" width="60" height="7"/><rect class="co" x="0" y="56.5" width="60" height="7"/><rect class="cg" x="240" y="-3.5" width="60" height="7"/><rect class="cr" x="240" y="11.5" width="60" height="7"/><rect class="cg" x="450" y="-3.5" width="90" height="7"/><rect class="cr" x="450" y="11.5" width="90" height="7"/><rect class="cr" x="630" y="11.5" width="75" height="7"/><rect class="cy" x="630" y="26.5" width="75" height="7"/><rect class="cy" x="720" y="26.5" width="60" height="7"/><rect class="cb" x="720" y="41.5" width="60" height="7"/><rect class="cy" x="930" y="26.5" width="30" height="7"/><rect class="cb" x="930" y="41.5" width="30" height="7"/>
<use href="#G" x="240"/><use href="#R" x="240"/><use href="#G" x="450"/><use href="#R" x="450"/><use href="#R" x="630"/><use href="#Y" x="630"/>
<use href="#sY" x="720"/><use href="#sB" x="720"/><use href="#sY" x="930"/><use href="#sB" x="930"/>
<rect class="og" x="720" width="240" height="60"/>
<rect class="bd" width="960" height="60"/>
<g class="t">
<text class="mn" x="0" y="-8">69</text><text class="mn" x="240" y="-8">70</text><text class="mn" x="480" y="-8">71</text><text class="mn" x="720" y="-8">72</text>
<text class="a" x="238.5" y="76">24</text><text class="b" x="238.5" y="89">45749</text><text class="c" x="238.5" y="102">33.50%</text>
<text class="a" x="478.5" y="76">136</text><text class="b" x="478.5" y="89">46293</text><text class="c" x="478.5" y="102">33.50%</text>
<text class="a" x="718.5" y="76">104</text><text class="b" x="718.5" y="89">46709</text><text class="c" x="718.5" y="102">33.50%</text>
<text class="a" x="958.5" y="76">136</text><text class="b" x="958.5" y="89">47253</text><text class="c" x="958.5" y="102">63.60%</text>
</g>
</g>

<g id="row19" transform="translate(31.3,2744)">
<rect class="sw" width="960" height="60"/>
<rect class="yb" x="0" y="-10.5" width="60" height="10.5"/><rect class="yb" x="0" y="60" width="60" height="10.5"/>
<use href="#gr"/>
<rect class="cy" x="0" y="26.5" width="60" height="7"/><rect class="cb" x="0" y="41.5" width="60" height="7"/><rect class="cr" x="240" y="11.5" width="60" height="7"/><rect class="cy" x="240" y="26.5" width="60" height="7"/><rect class="cr" x="450" y="11.5" width="90" height="7"/><rect class="cy" x="450" y="26.5" width="90" height="7"/><rect class="cg" x="720" y="-3.5" width="240" height="7"/><rect class="cy" x="720" y="26.5" width="240" height="7"/><rect class="cb" x="720" y="41.5" width="240" height="7"/>
<use href="#R" x="240"/><use href="#Y" x="240"/><use href="#R" x="450"/><use href="#Y" x="450"/><use href="#G" x="720"/><use href="#Y" x="720"/><use href="#B" x="720"/>
<rect class="og" x="0" width="60" height="60"/>
<rect class="bd" width="960" height="60"/>
<g class="t">
<text class="mn" x="0" y="-8">73</text><text class="mn" x="240" y="-8">74</text><text class="mn" x="480" y="-8">75</text><text class="mn" x="720" y="-8">76</text>
<text class="a" x="238.5" y="76">24</text><text class="b" x="238.5" y="89">47349</text><text class="c" x="238.5" y="102">67.00%</text>
<text class="a" x="478.5" y="76">136</text><text class="b" x="478.5" y="89">47893</text><text class="c" x="478.5" y="102">67.00%</text>
<text class="a" x="718.5" y="76">24</text><text class="b" x="718.5" y="89">47989</text><text class="c" x="718.5" y="102">67.00%</text>
<text class="a" x="958.5" y="76">219</text><text class="b" x="958.5" y="89">48865</text><text class="c" x="958.5" y="102">67.00%</text>
</g>
</g>

<g id="row20" transform="translate(31.3,2885)">
<rect class="sw" width="960" height="60"/>
<use href="#gr"/>
<rect class="cg" x="0" y="-3.5" width="180" height="7"/><rect class="cy" x="0" y="26.5" width="180" height="7"/><rect class="cb" x="0" y="41.5" width="180" height="7"/><rect class="cr" x="240" y="11.5" width="195" height="7"/><rect class="cy" x="240" y="26.5" width="195" height="7"/><rect class="co" x="240" y="56.5" width="195" height="7"/><rect class="cr" x="450" y="11.5" width="255" height="7"/><rect class="cy" x="450" y="26.5" width="255" height="7"/><rect class="cb" x="450" y="41.5" width="255" height="7"/>
<use href="#R" x="240"/><use href="#Y" x="240"/><use href="#O" x="240"/><use href="#R" x="450"/><use href="#Y" x="450"/><use href="#B" x="450"/>
<use href="#Y" x="720"/><use href="#Y" x="750"/><use href="#Y" x="780"/><use href="#Y" x="810"/><use href="#Y" x="840"/><use href="#Y" x="870"/><use href="#Y" x="900"/><use href="#Y" x="930"/>
<rect class="ob" x="349" width="611" height="60"/>
<rect class="bd" width="960" height="60"/>
<g class="t">
<text class="mn" x="0" y="-8">77</text><text class="mn" x="240" y="-8">78</text><text class="mn" x="480" y="-8">79</text><text class="mn" x="720" y="-8">80</text>
<text class="a" x="238.5" y="76">108</text><text class="b" x="238.5" y="89">49297</text><text class="c" x="238.5" y="102">67.00%</text>
<text class="a" x="478.5" y="76">285</text><text class="b" x="478.5" y="89">51017</text><text class="c" x="478.5" y="102">60.20%</text>
<text class="a" x="718.5" y="76">135</text><text class="b" x="718.5" y="89">52097</text><text class="c" x="718.5" y="102">47.70%</text>
<text class="a" x="958.5" y="76">200</text><text class="b" x="958.5" y="89">53697</text><text class="c" x="958.5" y="102">35.20%</text>
</g>
</g>

<g id="row21" transform="translate(31.3,3026)">
<rect class="sw" width="960" height="60"/>
<use href="#gr"/>
<use href="#Y" x="0"/><use href="#Y" x="30"/><use href="#Y" x="60"/><use href="#Y" x="90"/><use href="#Y" x="120"/><use href="#Y" x="150"/><use href="#Y" x="180"/><use href="#Y" x="210"/>
<use href="#sR" x="240"/><use href="#sR" x="270"/><use href="#sR" x="300"/><use href="#sR" x="330"/><use href="#sR" x="360"/><use href="#sR" x="390"/><use href="#sR" x="420"/><use href="#sR" x="450"/>
<use href="#R" x="480"/><use href="#R" x="510"/><use href="#R" x="540"/><use href="#R" x="570"/><use href="#R" x="600"/><use href="#R" x="630"/><use href="#R" x="660"/><use href="#R" x="690"/>
<use href="#B" x="720"/><use href="#B" x="750"/><use href="#B" x="780"/><use href="#B" x="810"/><use href="#B" x="840"/><use href="#B" x="870"/><use href="#B" x="900"/><use href="#B" x="930"/>
<rect class="og" x="240" width="210" height="60"/>
<rect class="ob" x="0" width="960" height="60"/>
<rect class="bd" width="960" height="60"/>
<g class="t">
<text class="mn" x="0" y="-8">81</text><text class="mn" x="240" y="-8">82</text><text class="mn" x="480" y="-8">83</text><text class="mn" x="720" y="-8">84</text>
<text class="a" x="238.5" y="76">200</text><text class="b" x="238.5" y="89">55297</text><text class="c" x="238.5" y="102">22.70%</text>
<text class="a" x="478.5" y="76">200</text><text class="b" x="478.5" y="89">56897</text><text class="c" x="478.5" y="102">35.20%</text>
<text class="a" x="718.5" y="76">200</text><text class="b" x="718.5" y="89">58497</text><text class="c" x="718.5" y="102">22.70%</text>
<text class="a" x="958.5" y="76">200</text><text class="b" x="958.5" y="89">60097</text><text class="c" x="958.5" y="102">10.20%</text>
</g>
</g>

<g id="row22" transform="translate(31.3,3167)">
<rect class="sw" width="960" height="60"/>
<use href="#gr"/>
<rect class="cy" x="690" y="26.5" width="270" height="7"/><rect class="co" x="690" y="56.5" width="270" height="7"/>
<use href="#B" x="0"/><use href="#B" x="30"/><use href="#B" x="60"/><use href="#B" x="90"/><use href="#B" x="120"/><use href="#B" x="150"/><use href="#B" x="180"/><use href="#B" x="210"/>
<use href="#R" x="270"/><use href="#B" x="270"/><use href="#R" x="300"/><use href="#B" x="300"/><use href="#R" x="360"/><use href="#B" x="360"/><use href="#R" x="390"/><use href="#B" x="390"/><use href="#R" x="450"/><use href="#B" x="450"/>
<use href="#Y" x="510"/><use href="#O" x="510"/><use href="#Y" x="540"/><use href="#O" x="540"/><use href="#Y" x="600"/><use href="#O" x="600"/><use href="#Y" x="630"/><use href="#O" x="630"/><use href="#Y" x="690"/><use href="#O" x="690"/>
<rect class="ob" x="0" width="676" height="60"/>
<rect class="or" x="676" width="14" height="60"/>
<rect class="bd" width="960" height="60"/>
<g class="t">
<text class="mn" x="0" y="-8">85</text><text class="mn" x="240" y="-8">86</text><text class="mn" x="480" y="-8">87</text><text class="mn" x="720" y="-8">88</text>
<text class="a" x="238.5" y="76">200</text><text class="b" x="238.5" y="89">61697</text><text class="c" x="238.5" y="102">0.00%</text>
<text class="a" x="478.5" y="76">250</text><text class="b" x="478.5" y="89">63697</text><text class="c" x="478.5" y="102">0.00%</text>
<text class="a" x="718.5" y="76">262</text><text class="b" x="718.5" y="89">65745</text><text class="c" x="718.5" y="102">0.00%</text>
<text class="a" x="958.5" y="76">96</text><text class="b" x="958.5" y="89">66129</text><text class="c" x="958.5" y="102">0.00%</text>
</g>
</g>

<g id="row23" transform="translate(31.3,3308)">
<rect class="sw" width="960" height="60"/>
<use href="#gr"/>
<rect class="cy" x="210" y="26.5" width="165" height="7"/><rect class="cb" x="210" y="41.5" width="165" height="7"/><rect class="cr" x="690" y="11.5" width="165" height="7"/><rect class="cb" x="690" y="41.5" width="165" height="7"/>
<use href="#sB" x="60"/><use href="#sO" x="60"/><use href="#sY" x="120"/><use href="#sO" x="120"/><use href="#sB" x="150"/><use href="#sO" x="150"/><use href="#sY" x="210"/><use href="#sB" x="210"/>
<use href="#Y" x="390"/><use href="#B" x="390"/><use href="#Y" x="450"/><use href="#B" x="450"/><use href="#B" x="540"/><use href="#O" x="540"/><use href="#Y" x="600"/><use href="#O" x="600"/><use href="#B" x="630"/><use href="#O" x="630"/><use href="#R" x="690"/><use href="#B" x="690"/><use href="#R" x="870"/><use href="#B" x="870"/><use href="#R" x="930"/><use href="#B" x="930"/>
<rect class="og" x="60" width="315" height="60"/>
<rect class="bd" width="960" height="60"/>
<g class="t">
<text class="mn" x="0" y="-8">89</text><text class="mn" x="240" y="-8">90</text><text class="mn" x="480" y="-8">91</text><text class="mn" x="720" y="-8">92</text>
<text class="a" x="238.5" y="76">212</text><text class="b" x="238.5" y="89">66977</text><text class="c" x="238.5" y="102">26.70%</text>
<text class="a" x="478.5" y="76">154</text><text class="b" x="478.5" y="89">67593</text><text class="c" x="478.5" y="102">34.35%</text>
<text class="a" x="718.5" y="76">212</text><text class="b" x="718.5" y="89">68441</text><text class="c" x="718.5" y="102">34.35%</text>
<text class="a" x="958.5" y="76">154</text><text class="b" x="958.5" y="89">69057</text><text class="c" x="958.5" y="102">34.35%</text>
</g>
</g>

<g id="row24" transform="translate(31.3,3449)">
<rect class="sw" width="960" height="60"/>
<rect class="gy" x="840" y="-10.5" width="120" height="81"/>
<use href="#gr"/>
<rect class="cr" x="210" y="11.5" width="165" height="7"/><rect class="cy" x="210" y="26.5" width="165" height="7"/><rect class="cr" x="450" y="11.5" width="60" height="7"/><rect class="cy" x="450" y="26.5" width="60" height="7"/><rect class="cy" x="690" y="26.5" width="60" height="7"/><rect class="cb" x="690" y="41.5" width="60" height="7"/><rect class="cb" x="855" y="41.5" width="105" height="7"/>
<use href="#R" x="60"/><use href="#B" x="60"/><use href="#R" x="120"/><use href="#Y" x="120"/><use href="#R" x="150"/><use href="#B" x="150"/><use href="#R" x="210"/><use href="#Y" x="210"/><use href="#R" x="390"/><use href="#B" x="390"/><use href="#R" x="450"/><use href="#Y" x="450"/><use href="#R" x="540"/><use href="#Y" x="540"/><use href="#G" x="600"/><use href="#R" x="600"/><use href="#R" x="630"/><use href="#Y" x="630"/><use href="#Y" x="690"/><use href="#B" x="690"/><use href="#Y" x="780"/><use href="#B" x="780"/><use href="#B" x="855"/>
<rect class="bd" width="960" height="60"/>
<g class="t">
<text class="mn" x="0" y="-8">93</text><text class="mn" x="240" y="-8">94</text><text class="mn" x="480" y="-8">95</text><text class="mn" x="720" y="-8">96</text>
<text class="a" x="238.5" y="76">212</text><text class="b" x="238.5" y="89">69905</text><text class="c" x="238.5" y="102">34.35%</text>
<text class="a" x="478.5" y="76">166</text><text class="b" x="478.5" y="89">70569</text><text class="c" x="478.5" y="102">34.35%</text>
<text class="a" x="718.5" y="76">224</text><text class="b" x="718.5" y="89">71465</text><text class="c" x="718.5" y="102">34.35%</text>
<text class="a" x="958.5" y="76">108</text><text class="b" x="958.5" y="89">71897</text><text class="c" x="958.5" y="102">34.35%</text>
</g>
</g>

<g id="row25" transform="translate(31.3,3590)">
<rect class="sw" width="960" height="60"/>
<rect class="gy" x="0" y="-10.5" width="960" height="81"/>
<rect class="yb" x="240" y="-10.5" width="285" height="10.5"/><rect class="yb" x="240" y="60" width="285" height="10.5"/>
<use href="#gr"/>
<rect class="cb" x="0" y="41.5" width="225" height="7"/><rect class="co" x="240" y="56.5" width="135" height="7"/><rect class="cb" x="465" y="41.5" width="60" height="7"/><rect class="cg" x="720" y="-3.5" width="75" height="7"/><rect class="cg" x="930" y="-3.5" width="30" height="7"/>
<use href="#sO" x="240"/><use href="#sB" x="390"/><use href="#sY" x="405"/><use href="#sR" x="420"/><use href="#sY" x="450"/><use href="#sB" x="465"/>
<use href="#B" x="540"/><use href="#Y" x="555"/><use href="#R" x="570"/><use href="#G" x="585"/><use href="#R" x="600"/><use href="#G" x="615"/><use href="#O" x="630"/><use href="#B" x="645"/><use href="#O" x="660"/><use href="#B" x="675"/><use href="#Y" x="690"/><use href="#R" x="705"/><use href="#G" x="720"/><use href="#G" x="810"/><use href="#R" x="840"/><use href="#Y" x="850"/><use href="#B" x="870"/><use href="#O" x="900"/><use href="#G" x="930"/>
<rect class="og" x="240" width="285" height="60"/>
<rect class="ob" x="540" width="420" height="60"/>
<rect x="539.3" width="1.5" height="60" fill="#ff0000" opacity=".5"/>
<rect class="bd" width="960" height="60"/>
<g class="t">
<text class="mn" x="0" y="-8">97</text><text class="mn" x="240" y="-8">98</text><text class="mn" x="480" y="-8">99</text><text class="mn" x="720" y="-8">100</text>
<text class="a" x="238.5" y="76">45</text><text class="b" x="238.5" y="89">72077</text><text class="c" x="238.5" y="102">34.35%</text>
<text class="a" x="478.5" y="76">180</text><text class="b" x="478.5" y="89">72797</text><text class="c" x="478.5" y="102">67.85%</text>
<text class="a" x="718.5" y="76">309</text><text class="b" x="718.5" y="89">75233</text><text class="c" x="718.5" y="102">61.17%</text>
<text class="a" x="958.5" y="76">196</text><text class="b" x="958.5" y="89">76801</text><text class="c" x="958.5" y="102">48.67%</text>
</g>
</g>

<g id="row26" transform="translate(31.3,3731)">
<rect class="sw" width="960" height="60"/>
<rect class="gy" x="0" y="-10.5" width="960" height="81"/>
<use href="#gr"/>
<rect class="cg" x="0" y="-3.5" width="15" height="7"/>
<use href="#G" x="30"/><use href="#G" x="90"/><use href="#G" x="330"/><use href="#G" x="375"/><use href="#G" x="420"/><use href="#G" x="465"/><use href="#G" x="510"/><use href="#G" x="555"/><use href="#G" x="600"/><use href="#G" x="645"/><use href="#G" x="825"/><use href="#G" x="915"/>
<use href="#R" x="60"/><use href="#R" x="120"/><use href="#R" x="765"/><use href="#R" x="810"/><use href="#R" x="855"/><use href="#R" x="900"/><use href="#R" x="930"/>
<use href="#Y" x="130"/><use href="#Y" x="180"/><use href="#Y" x="300"/><use href="#Y" x="320"/><use href="#Y" x="360"/><use href="#Y" x="390"/><use href="#Y" x="410"/><use href="#Y" x="450"/><use href="#Y" x="480"/><use href="#Y" x="499"/><use href="#Y" x="540"/><use href="#Y" x="570"/><use href="#Y" x="589"/><use href="#Y" x="630"/><use href="#Y" x="675"/><use href="#Y" x="690"/><use href="#Y" x="750"/><use href="#Y" x="795"/><use href="#Y" x="840"/><use href="#Y" x="885"/><use href="#Y" x="945"/>
<use href="#B" x="150"/><use href="#B" x="210"/><use href="#B" x="240"/><use href="#B" x="720"/><use href="#B" x="739"/><use href="#B" x="780"/><use href="#B" x="870"/>
<use href="#O" x="250"/><use href="#O" x="310"/><use href="#O" x="345"/><use href="#O" x="400"/><use href="#O" x="435"/><use href="#O" x="490"/><use href="#O" x="525"/><use href="#O" x="580"/><use href="#O" x="615"/><use href="#O" x="660"/><use href="#O" x="729"/>
<rect class="ob" x="0" width="960" height="60"/>
<rect class="bd" width="960" height="60"/>
<g class="t">
<text class="mn" x="0" y="-8">101</text><text class="mn" x="240" y="-8">102</text><text class="mn" x="480" y="-8">103</text><text class="mn" x="720" y="-8">104</text>
<text class="a" x="238.5" y="76">203</text><text class="b" x="238.5" y="89">78425</text><text class="c" x="238.5" y="102">36.17%</text>
<text class="a" x="478.5" y="76">400</text><text class="b" x="478.5" y="89">81625</text><text class="c" x="478.5" y="102">23.67%</text>
<text class="a" x="718.5" y="76">425</text><text class="b" x="718.5" y="89">85025</text><text class="c" x="718.5" y="102">11.17%</text>
<text class="a" x="958.5" y="76">425</text><text class="b" x="958.5" y="89">88425</text><text class="c" x="958.5" y="102">0.00%</text>
</g>
</g>

<g id="row27" transform="translate(31.3,3872)">
<rect class="sw" width="960" height="60"/>
<rect class="gy" x="0" y="-10.5" width="420" height="81"/>
<use href="#gr"/>
<rect class="co" x="255" y="56.5" width="165" height="7"/><rect class="cg" x="450" y="-3.5" width="45" height="7"/><rect class="cb" x="690" y="41.5" width="45" height="7"/><rect class="cb" x="930" y="41.5" width="30" height="7"/>
<use href="#G" x="15"/><use href="#G" x="150"/><use href="#G" x="450"/>
<use href="#R" x="30"/><use href="#R" x="105"/><use href="#R" x="135"/><use href="#R" x="165"/><use href="#R" x="210"/>
<use href="#Y" x="40"/><use href="#Y" x="90"/><use href="#Y" x="120"/><use href="#Y" x="180"/><use href="#Y" x="220"/>
<use href="#B" x="0"/><use href="#B" x="50"/><use href="#B" x="75"/><use href="#B" x="195"/><use href="#B" x="230"/><use href="#B" x="240"/>
<use href="#O" x="60"/><use href="#O" x="255"/>
<use href="#sG" x="510"/><use href="#sR" x="540"/><use href="#sG" x="570"/><use href="#sY" x="600"/><use href="#sG" x="630"/><use href="#sB" x="660"/><use href="#sB" x="690"/>
<use href="#B" x="750"/><use href="#Y" x="780"/><use href="#R" x="810"/><use href="#B" x="840"/><use href="#B" x="930"/>
<rect class="og" x="510" width="225" height="60"/>
<rect class="ob" x="0" width="454" height="60"/>
<rect class="bd" width="960" height="60"/>
<g class="t">
<text class="mn" x="0" y="-8">105</text><text class="mn" x="240" y="-8">106</text><text class="mn" x="480" y="-8">107</text><text class="mn" x="720" y="-8">108</text>
<text class="a" x="238.5" y="76">450</text><text class="b" x="238.5" y="89">92025</text><text class="c" x="238.5" y="102">0.00%</text>
<text class="a" x="478.5" y="76">114</text><text class="b" x="478.5" y="89">103317</text><text class="c" x="478.5" y="102">0.00%</text>
<text class="a" x="718.5" y="76">184</text><text class="b" x="718.5" y="89">104053</text><text class="c" x="718.5" y="102">26.70%</text>
<text class="a" x="958.5" y="76">134</text><text class="b" x="958.5" y="89">104589</text><text class="c" x="958.5" y="102">27.55%</text>
</g>
</g>

<g id="row28" transform="translate(31.3,4013)">
<rect class="sw" width="960" height="60"/>
<use href="#gr"/>
<rect class="cb" x="0" y="41.5" width="15" height="7"/><rect class="cb" x="240" y="41.5" width="150" height="7"/><rect class="cg" x="450" y="-3.5" width="45" height="7"/>
<use href="#G" x="60"/><use href="#G" x="450"/><use href="#G" x="510"/><use href="#G" x="570"/><use href="#G" x="630"/><use href="#G" x="690"/><use href="#G" x="705"/><use href="#G" x="945"/>
<use href="#R" x="75"/><use href="#R" x="180"/><use href="#R" x="540"/><use href="#R" x="795"/><use href="#R" x="870"/><use href="#R" x="930"/>
<use href="#Y" x="90"/><use href="#Y" x="120"/><use href="#Y" x="195"/><use href="#Y" x="600"/><use href="#Y" x="735"/><use href="#Y" x="780"/><use href="#Y" x="825"/><use href="#Y" x="855"/><use href="#Y" x="885"/><use href="#Y" x="915"/>
<use href="#B" x="30"/><use href="#B" x="135"/><use href="#B" x="240"/><use href="#B" x="660"/><use href="#B" x="720"/><use href="#B" x="765"/><use href="#B" x="810"/><use href="#B" x="840"/>
<use href="#O" x="150"/><use href="#O" x="210"/><use href="#O" x="750"/>
<rect class="bd" width="960" height="60"/>
<g class="t">
<text class="mn" x="0" y="-8">109</text><text class="mn" x="240" y="-8">110</text><text class="mn" x="480" y="-8">111</text><text class="mn" x="720" y="-8">112</text>
<text class="a" x="238.5" y="76">253</text><text class="b" x="238.5" y="89">105601</text><text class="c" x="238.5" y="102">27.55%</text>
<text class="a" x="478.5" y="76">86</text><text class="b" x="478.5" y="89">105945</text><text class="c" x="478.5" y="102">27.55%</text>
<text class="a" x="718.5" y="76">203</text><text class="b" x="718.5" y="89">106757</text><text class="c" x="718.5" y="102">27.55%</text>
<text class="a" x="958.5" y="76">375</text><text class="b" x="958.5" y="89">108257</text><text class="c" x="958.5" y="102">27.55%</text>
</g>
</g>

<g id="row29" transform="translate(31.3,4154)">
<rect class="sw" width="960" height="60"/>
<rect class="yb" x="510" y="-10.5" width="270" height="10.5"/><rect class="yb" x="510" y="60" width="270" height="10.5"/>
<use href="#gr"/>
<rect class="cg" x="240" y="-3.5" width="90" height="7"/><rect class="cg" x="450" y="-3.5" width="45" height="7"/><rect class="cb" x="709" y="41.5" width="71" height="7"/><rect class="co" x="709" y="56.5" width="71" height="7"/><rect class="cr" x="920" y="11.5" width="40" height="7"/><rect class="cb" x="920" y="41.5" width="40" height="7"/>
<use href="#G" x="108"/><use href="#G" x="150"/><use href="#G" x="240"/><use href="#G" x="450"/><use href="#G" x="870"/>
<use href="#R" x="99"/><use href="#R" x="135"/><use href="#R" x="225"/><use href="#R" x="826"/><use href="#R" x="900"/><use href="#R" x="920"/>
<use href="#Y" x="30"/><use href="#Y" x="90"/><use href="#Y" x="120"/><use href="#Y" x="210"/><use href="#Y" x="813"/><use href="#Y" x="840"/><use href="#Y" x="900"/>
<use href="#B" x="15"/><use href="#B" x="45"/><use href="#B" x="75"/><use href="#B" x="165"/><use href="#B" x="195"/><use href="#B" x="799"/><use href="#B" x="920"/>
<use href="#O" x="0"/>
<use href="#sG" x="510"/><use href="#sR" x="540"/><use href="#sG" x="570"/><use href="#sY" x="600"/><use href="#sG" x="630"/><use href="#sB" x="660"/><use href="#sY" x="690"/><use href="#sO" x="690"/><use href="#sB" x="709"/><use href="#sO" x="709"/>
<rect class="og" x="510" width="270" height="60"/>
<rect class="bd" width="960" height="60"/>
<g class="t">
<text class="mn" x="0" y="-8">113</text><text class="mn" x="240" y="-8">114</text><text class="mn" x="480" y="-8">115</text><text class="mn" x="720" y="-8">116</text>
<text class="a" x="238.5" y="76">375</text><text class="b" x="238.5" y="89">109757</text><text class="c" x="238.5" y="102">27.55%</text>
<text class="a" x="478.5" y="76">74</text><text class="b" x="478.5" y="89">110053</text><text class="c" x="478.5" y="102">27.55%</text>
<text class="a" x="718.5" y="76">257</text><text class="b" x="718.5" y="89">111081</text><text class="c" x="718.5" y="102">53.12%</text>
<text class="a" x="958.5" y="76">265</text><text class="b" x="958.5" y="89">112141</text><text class="c" x="958.5" y="102">56.52%</text>
</g>
</g>

<g id="row30" transform="translate(31.3,4295)">
<rect class="sw" width="960" height="60"/>
<use href="#gr"/>
<rect class="cr" x="0" y="11.5" width="30" height="7"/><rect class="cr" x="40" y="11.5" width="50" height="7"/><rect class="cb" x="0" y="41.5" width="30" height="7"/><rect class="cb" x="220" y="41.5" width="200" height="7"/><rect class="cg" x="450" y="-3.5" width="45" height="7"/><rect class="co" x="790" y="56.5" width="170" height="7"/>
<use href="#R" x="40"/><use href="#G" x="105"/><use href="#G" x="120"/><use href="#B" x="180"/><use href="#O" x="190"/><use href="#B" x="220"/><use href="#G" x="450"/><use href="#G" x="510"/><use href="#R" x="540"/><use href="#G" x="570"/><use href="#Y" x="600"/><use href="#G" x="630"/><use href="#B" x="660"/><use href="#R" x="690"/><use href="#Y" x="720"/><use href="#G" x="750"/><use href="#B" x="780"/><use href="#O" x="790"/>
<rect class="or" x="450" width="8" height="60"/>
<rect class="ob" x="458" width="502" height="60"/>
<rect class="bd" width="960" height="60"/>
<g class="t">
<text class="mn" x="0" y="-8">117</text><text class="mn" x="240" y="-8">118</text><text class="mn" x="480" y="-8">119</text><text class="mn" x="720" y="-8">120</text>
<text class="a" x="238.5" y="76">176</text><text class="b" x="238.5" y="89">112845</text><text class="c" x="238.5" y="102">56.52%</text>
<text class="a" x="478.5" y="76">67</text><text class="b" x="478.5" y="89">113237</text><text class="c" x="478.5" y="102">55.46%</text>
<text class="a" x="718.5" y="76">178</text><text class="b" x="718.5" y="89">114661</text><text class="c" x="718.5" y="102">42.96%</text>
<text class="a" x="958.5" y="76">134</text><text class="b" x="958.5" y="89">115733</text><text class="c" x="958.5" y="102">30.46%</text>
</g>
</g>

<g id="row31" transform="translate(31.3,4436)">
<rect class="sw" width="960" height="60"/>
<use href="#gr"/>
<rect class="cr" x="540" y="11.5" width="75" height="7"/>
<use href="#G" x="135"/><use href="#G" x="165"/><use href="#G" x="660"/><use href="#G" x="720"/><use href="#G" x="765"/><use href="#G" x="810"/><use href="#G" x="855"/>
<use href="#R" x="90"/><use href="#R" x="120"/><use href="#R" x="150"/><use href="#R" x="180"/><use href="#R" x="300"/><use href="#R" x="465"/><use href="#R" x="540"/><use href="#R" x="630"/><use href="#R" x="679"/><use href="#R" x="735"/><use href="#R" x="780"/><use href="#R" x="825"/><use href="#R" x="870"/><use href="#R" x="900"/>
<use href="#Y" x="105"/><use href="#Y" x="195"/><use href="#Y" x="315"/><use href="#Y" x="450"/><use href="#Y" x="480"/><use href="#Y" x="520"/><use href="#Y" x="700"/><use href="#Y" x="750"/><use href="#Y" x="795"/><use href="#Y" x="840"/><use href="#Y" x="885"/><use href="#Y" x="919"/>
<use href="#B" x="75"/><use href="#B" x="210"/><use href="#B" x="330"/><use href="#B" x="360"/><use href="#B" x="435"/><use href="#B" x="940"/>
<use href="#O" x="60"/><use href="#O" x="225"/><use href="#O" x="270"/><use href="#O" x="405"/>
<rect class="ob" x="0" width="960" height="60"/>
<rect class="bd" width="960" height="60"/>
<g class="t">
<text class="mn" x="0" y="-8">121</text><text class="mn" x="240" y="-8">122</text><text class="mn" x="480" y="-8">123</text><text class="mn" x="720" y="-8">124</text>
<text class="a" x="238.5" y="76">300</text><text class="b" x="238.5" y="89">118133</text><text class="c" x="238.5" y="102">17.96%</text>
<text class="a" x="478.5" y="76">225</text><text class="b" x="478.5" y="89">119933</text><text class="c" x="478.5" y="102">5.46%</text>
<text class="a" x="718.5" y="76">190</text><text class="b" x="718.5" y="89">121453</text><text class="c" x="718.5" y="102">0.00%</text>
<text class="a" x="958.5" y="76">375</text><text class="b" x="958.5" y="89">124453</text><text class="c" x="958.5" y="102">0.00%</text>
</g>
</g>

<g id="row32" transform="translate(31.3,4577)">
<rect class="sw" width="960" height="60"/>
<rect class="pk" x="240" y="-10.5" width="720" height="81"/>
<use href="#gr"/>
<rect class="co" x="45" y="56.5" width="180" height="7"/><rect class="co" x="289" y="56.5" width="56" height="7"/>
<use href="#G" x="525"/><use href="#G" x="622"/><use href="#G" x="780"/><use href="#G" x="810"/><use href="#G" x="840"/><use href="#G" x="900"/><use href="#G" x="940"/>
<use href="#R" x="390"/><use href="#R" x="487"/><use href="#R" x="510"/><use href="#R" x="615"/><use href="#R" x="660"/><use href="#R" x="769"/><use href="#R" x="825"/><use href="#R" x="892"/>
<use href="#Y" x="420"/><use href="#Y" x="460"/><use href="#Y" x="480"/><use href="#Y" x="495"/><use href="#Y" x="544"/><use href="#Y" x="574"/><use href="#Y" x="600"/><use href="#Y" x="630"/><use href="#Y" x="645"/><use href="#Y" x="709"/><use href="#Y" x="760"/><use href="#Y" x="795"/><use href="#Y" x="885"/>
<use href="#B" x="0"/><use href="#B" x="259"/><use href="#B" x="360"/><use href="#B" x="439"/><use href="#B" x="469"/><use href="#B" x="535"/><use href="#B" x="565"/><use href="#B" x="589"/><use href="#B" x="690"/><use href="#B" x="739"/><use href="#B" x="870"/><use href="#B" x="920"/>
<use href="#O" x="45"/><use href="#O" x="289"/><use href="#O" x="555"/><use href="#O" x="675"/><use href="#O" x="699"/><use href="#O" x="720"/><use href="#O" x="855"/>
<rect class="ob" x="0" width="104" height="60"/>
<rect class="bd" width="960" height="60"/>
<g class="t">
<text class="mn" x="0" y="-8">125</text><text class="mn" x="240" y="-8">126</text><text class="mn" x="480" y="-8">127</text><text class="mn" x="720" y="-8">128</text>
<text class="a" x="238.5" y="76">86</text><text class="b" x="238.5" y="89">125045</text><text class="c" x="238.5" y="102">0.00%</text>
<text class="a" x="478.5" y="76">0</text><text class="b" x="478.5" y="89">125045</text><text class="c" x="478.5" y="102">0.00%</text>
<text class="a" x="718.5" y="76">0</text><text class="b" x="718.5" y="89">125045</text><text class="c" x="718.5" y="102">0.00%</text>
<text class="a" x="958.5" y="76">0</text><text class="b" x="958.5" y="89">125045</text><text class="c" x="958.5" y="102">0.00%</text>
</g>
</g>

<g id="row33" transform="translate(31.3,4718)">
<rect class="sw" width="480" height="60"/>
<rect class="pk" x="0" y="-10.5" width="390" height="81"/>
<use href="#gm"/><use href="#gm" x="240"/><path d="M240 0V60" stroke="#000" stroke-width="1"/>
<rect class="cr" x="0" y="11.5" width="375" height="7"/>
<use href="#R" x="0"/><use href="#G" x="420"/>
<rect class="bd" width="480" height="60"/>
<g class="t">
<text class="mn" x="0" y="-8">129</text><text class="mn" x="240" y="-8">130</text>
<text class="a" x="238.5" y="76">0</text><text class="b" x="238.5" y="89">125045</text><text class="c" x="238.5" y="102">0.00%</text>
<text class="a" x="478.5" y="76">0</text><text class="b" x="478.5" y="89">129875</text><text class="c" x="478.5" y="102">0.00%</text>
</g>
</g>
</g>
</svg>
